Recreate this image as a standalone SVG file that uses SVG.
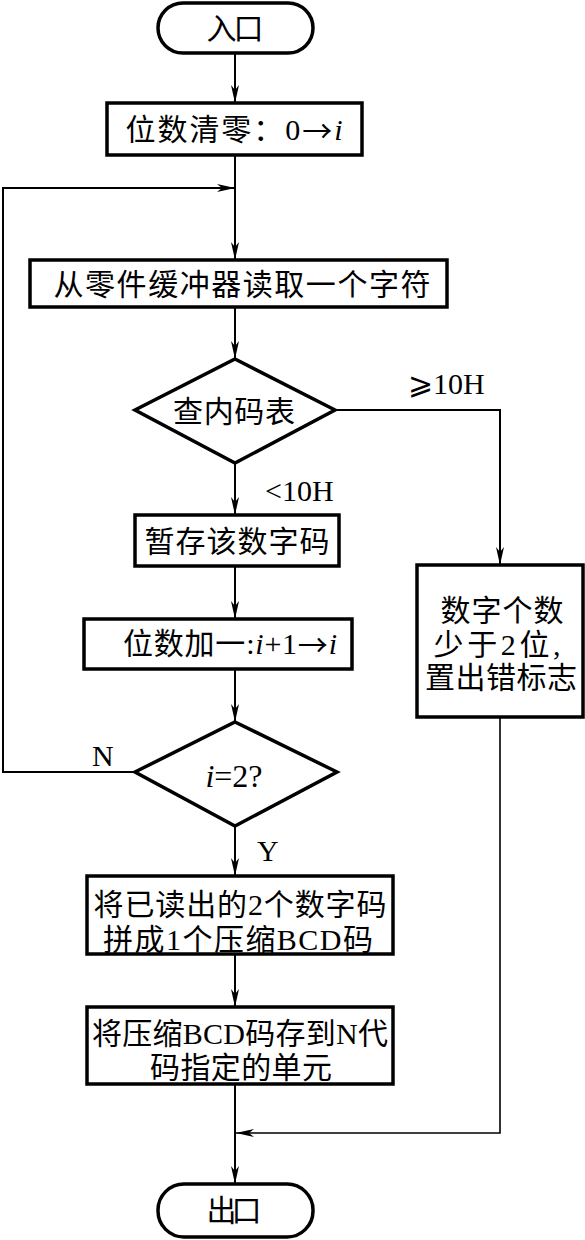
<svg xmlns="http://www.w3.org/2000/svg" width="585" height="1240" viewBox="0 0 585 1240">
<style>
.box{fill:#fff;stroke:#000;stroke-width:3.5}
.ln{fill:none;stroke:#000;stroke-width:2}
.thin{fill:none;stroke:#000;stroke-width:1.6}
.t{font-family:"Liberation Serif","Noto Sans CJK SC",serif;font-size:30px;text-anchor:middle;dominant-baseline:central;fill:#000}
.lab{font-family:"Liberation Serif","DejaVu Serif","Noto Sans CJK SC",serif;font-size:30px;dominant-baseline:central;fill:#000}
.i{font-style:italic}
.ar{font-family:"Noto Sans CJK SC",sans-serif}
</style>
<defs>
<marker id="arr" markerUnits="userSpaceOnUse" markerWidth="20" markerHeight="10" refX="18" refY="5" orient="auto">
<path d="M0,1 L18,5 L0,9 L5,5 z" fill="#000"/>
</marker>
</defs>
<g id="connectors">
<line class="ln" x1="235" y1="53" x2="235" y2="103" marker-end="url(#arr)"/>
<line class="ln" x1="235" y1="155" x2="235" y2="260" marker-end="url(#arr)"/>
<polyline class="ln" points="135,772 3,772 3,188 235,188" marker-end="url(#arr)"/>
<line class="ln" x1="235" y1="307" x2="235" y2="359" marker-end="url(#arr)"/>
<polyline class="ln" points="335,410 500,410 500,565" marker-end="url(#arr)"/>
<line class="ln" x1="235" y1="463" x2="235" y2="515" marker-end="url(#arr)"/>
<line class="ln" x1="235" y1="566" x2="235" y2="619" marker-end="url(#arr)"/>
<line class="ln" x1="235" y1="669" x2="235" y2="722" marker-end="url(#arr)"/>
<line class="ln" x1="235" y1="826" x2="235" y2="876" marker-end="url(#arr)"/>
<line class="ln" x1="235" y1="954" x2="235" y2="1007" marker-end="url(#arr)"/>
<line class="ln" x1="235" y1="1084" x2="235" y2="1184" marker-end="url(#arr)"/>
<polyline class="thin" points="500,717 500,1133 236,1133" marker-end="url(#arr)"/>
<text class="lab" x="408" y="383">⩾10H</text>
<text class="lab" x="265" y="490">&lt;10H</text>
<text class="lab" x="92" y="755">N</text>
<text class="lab" x="257" y="850">Y</text>
</g>
<g id="entry">
<rect class="box" x="158" y="3" width="155" height="50" rx="25"/>
<text class="t" x="235" y="28" textLength="57" lengthAdjust="spacing">入口</text>
</g>
<g id="clear">
<rect class="box" x="107" y="103" width="255" height="52"/>
<text class="t" x="234" y="129" textLength="217" lengthAdjust="spacing">位数清零：0<tspan class="ar">→</tspan><tspan class="i">i</tspan></text>
</g>
<g id="read">
<rect class="box" x="30" y="260" width="417" height="47"/>
<text class="t" x="242" y="284" textLength="377" lengthAdjust="spacing">从零件缓冲器读取一个字符</text>
</g>
<g id="lookup">
<polygon class="box" points="235,359 335,410 235,463 135,410"/>
<text class="t" x="234" y="411" textLength="122" lengthAdjust="spacing">查内码表</text>
</g>
<g id="store">
<rect class="box" x="135" y="515" width="204" height="51"/>
<text class="t" x="237" y="541" textLength="185" lengthAdjust="spacing">暂存该数字码</text>
</g>
<g id="inc">
<rect class="box" x="84" y="619" width="268" height="50"/>
<text class="t" x="230" y="643" textLength="214" lengthAdjust="spacing">位数加一:<tspan class="i">i</tspan>+1<tspan class="ar">→</tspan><tspan class="i">i</tspan></text>
</g>
<g id="check">
<polygon class="box" points="235,722 337,772 235,826 135,772"/>
<text class="t" x="234" y="776" style="font-size:32px"><tspan class="i">i</tspan>=2?</text>
</g>
<g id="pack">
<rect class="box" x="87" y="876" width="306" height="78"/>
<text class="t" x="240" y="904" textLength="293" lengthAdjust="spacing">将已读出的2个数字码</text>
<text class="t" x="238" y="939" textLength="270" lengthAdjust="spacing">拼成1个压缩BCD码</text>
</g>
<g id="save">
<rect class="box" x="87" y="1007" width="306" height="77"/>
<text class="t" x="240" y="1033" textLength="296" lengthAdjust="spacing">将压缩BCD码存到N代</text>
<text class="t" x="241" y="1067" textLength="182" lengthAdjust="spacing">码指定的单元</text>
</g>
<g id="error">
<rect class="box" x="417" y="565" width="166" height="152"/>
<text class="t" x="502" y="610" textLength="123" lengthAdjust="spacing">数字个数</text>
<text class="t" x="497" y="644" textLength="127" lengthAdjust="spacing">少于2位,</text>
<text class="t" x="501" y="677" textLength="152" lengthAdjust="spacing">置出错标志</text>
</g>
<g id="exit">
<rect class="box" x="158" y="1184" width="155" height="53" rx="26"/>
<text class="t" x="234" y="1210" textLength="55" lengthAdjust="spacing">出口</text>
</g>
</svg>
